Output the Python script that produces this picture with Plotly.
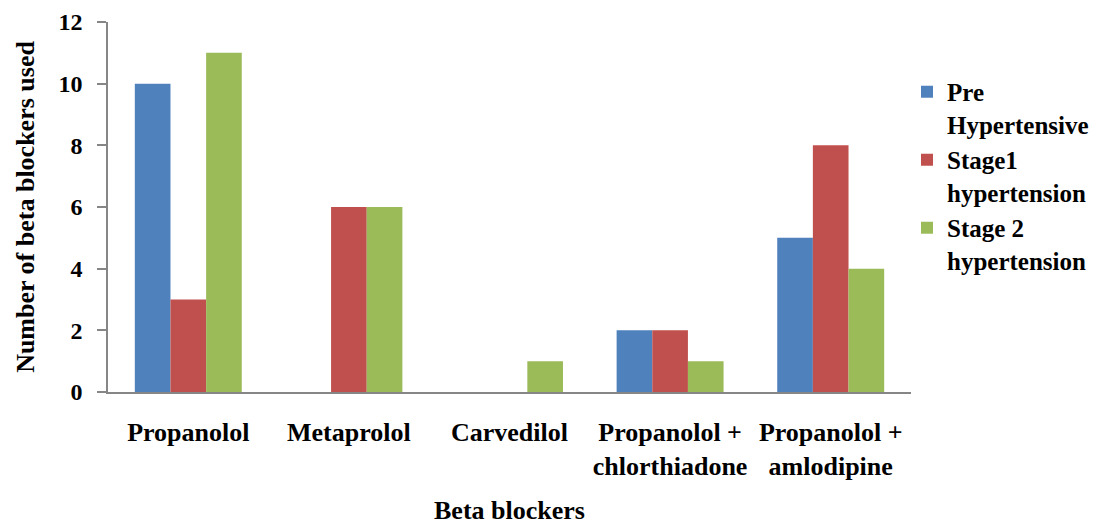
import plotly.graph_objects as go

categories = ["Propanolol", "Metaprolol", "Carvedilol",
              "Propanolol +<br>chlorthiadone", "Propanolol +<br>amlodipine"]
series_names = ["Pre<br>Hypertensive", "Stage1<br>hypertension", "Stage 2<br>hypertension"]
pre_hypertensive = [10, 0, 0, 2, 5]
stage1_hypertension = [3, 6, 0, 2, 8]
stage2_hypertension = [11, 6, 1, 1, 4]
y_ticks = [0, 2, 4, 6, 8, 10, 12]

colors = ["#4F81BD", "#C0504D", "#9BBB59"]
FONT = "Liberation Serif, Times New Roman, serif"

fig = go.Figure()
for name, vals, col in zip(series_names,
                           [pre_hypertensive, stage1_hypertension, stage2_hypertension],
                           colors):
    fig.add_trace(go.Bar(x=categories, y=vals, name=name,
                         marker=dict(color=col, line=dict(width=0))))

fig.update_layout(
    width=1104, height=525,
    margin=dict(l=108, r=193, t=22, b=133, autoexpand=False),
    paper_bgcolor="white", plot_bgcolor="white",
    barmode="group", bargap=0.334, bargroupgap=0,
    font=dict(family=FONT, color="black", size=26, weight="bold"),
    showlegend=True,
    legend=dict(x=0.995, y=0.873, xanchor="left", yanchor="top",
                valign="top", itemwidth=30,
                font=dict(family=FONT, size=25, color="black", weight="bold"),
                bgcolor="rgba(0,0,0,0)"),
    xaxis=dict(
        range=[-0.5, 4.5], showgrid=False, zeroline=False, automargin=False,
        showline=True, linecolor="#868686", linewidth=1.5,
        ticks="", ticklabelstandoff=16,
        tickfont=dict(family=FONT, size=26, color="black", weight="bold"),
        title=dict(text="Beta blockers", standoff=26,
                   font=dict(family=FONT, size=26, color="black", weight="bold")),
    ),
    yaxis=dict(
        range=[0, 12], tickvals=y_ticks, ticktext=[str(v) for v in y_ticks],
        showgrid=False, zeroline=False, automargin=False,
        showline=True, linecolor="#868686", linewidth=1.5,
        ticks="outside", ticklen=9, tickcolor="#868686", tickwidth=1.5,
        ticklabelstandoff=10,
        tickfont=dict(family=FONT, size=24, color="black", weight="bold"),
        title=dict(text="Number of beta blockers used", standoff=16,
                   font=dict(family=FONT, size=26, color="black", weight="bold")),
    ),
)

fig.write_html("out.html")
